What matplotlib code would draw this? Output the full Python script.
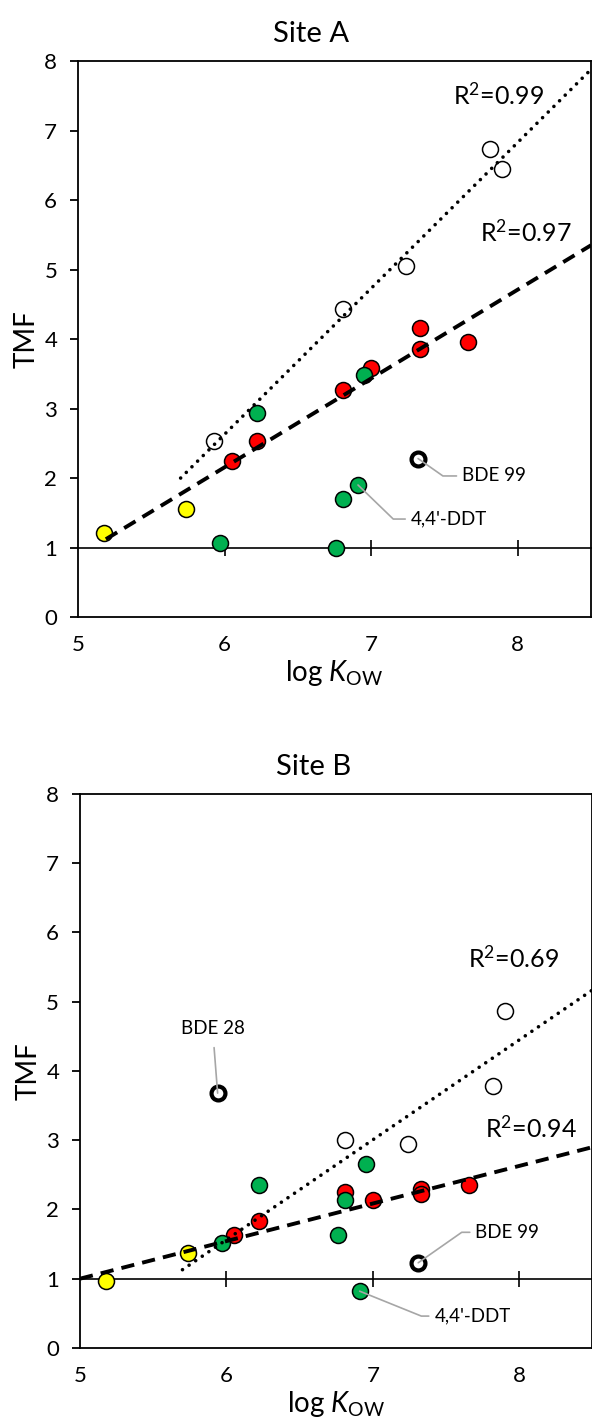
import matplotlib.pyplot as plt

plt.rcParams['font.family'] = ['Lato', 'DejaVu Sans']
plt.rcParams['mathtext.fontset'] = 'custom'
plt.rcParams['mathtext.rm'] = 'Lato'
plt.rcParams['mathtext.it'] = 'Lato:italic'

# log Kow of the compounds, by group
red_x = [6.05, 6.22, 6.81, 7.00, 7.33, 7.33, 7.66]
green_x = [5.97, 6.22, 6.95, 6.76, 6.81, 6.91]
yellow_x = [5.18, 5.74]
white_x_a = [5.93, 6.81, 7.24, 7.81, 7.89]
white_x_b = [6.81, 7.24, 7.82, 7.90]
bold_x_a = [7.32]
bold_x_b = [5.94, 7.31]

# TMF, site A
red_a = [2.24, 2.53, 3.27, 3.59, 4.16, 3.85, 3.96]
green_a = [1.07, 2.93, 3.48, 0.99, 1.70, 1.90]
yellow_a = [1.21, 1.55]
white_a = [2.53, 4.43, 5.05, 6.73, 6.45]
bold_a = [2.28]

# TMF, site B
red_b = [1.63, 1.84, 2.25, 2.14, 2.30, 2.23, 2.35]
green_b = [1.51, 2.35, 2.66, 1.63, 2.14, 0.82]
yellow_b = [0.96, 1.37]
white_b = [3.01, 2.95, 3.78, 4.87]
bold_b = [3.68, 1.23]

# trend lines (ends)
dot_x = [5.70, 8.50]
dot_a = [2.00, 7.88]
dot_b = [1.13, 5.17]
dash_x_a = [5.19, 8.50]
dash_a = [1.12, 5.35]
dash_x_b = [5.00, 8.50]
dash_b = [1.00, 2.90]

r2_a = ["R$^2$=0.99", "R$^2$=0.97"]
r2_pos_a = [(8.18, 7.50), (8.37, 5.53)]
r2_b = ["R$^2$=0.69", "R$^2$=0.94"]
r2_pos_b = [(8.27, 5.63), (8.39, 3.17)]

# labelled points: text, point, text position, leader angle
labels_a = ["BDE 99", "4,4'-DDT"]
label_pts_a = [(7.32, 2.28), (6.91, 1.90)]
label_pos_a = [(7.62, 2.03), (7.27, 1.41)]
label_ang_a = [-35, -44]
labels_b = ["BDE 99", "4,4'-DDT"]
label_pts_b = [(7.31, 1.23), (6.91, 0.82)]
label_pos_b = [(7.70, 1.67), (7.42, 0.46)]
label_ang_b = [35, -22]

GREEN = '#00B050'


def draw_panel(ax, title, white_x, white_y, bold_x, bold_y, red_y, green_y, yellow_y,
               dash_x, dash_y, dot_y, r2, r2_pos, labels, pts, pos, angs):
    ax.set_xlim(5, 8.5)
    ax.set_ylim(0, 8)
    ax.set_xticks([5, 6, 7, 8])
    ax.set_yticks(range(9))
    ax.tick_params(axis='x', length=0, pad=13, labelsize=16)
    ax.tick_params(axis='y', direction='out', length=6, width=1.3, pad=9, labelsize=16)
    for s in ax.spines.values():
        s.set_linewidth(1.3)
    ax.set_title(title, fontsize=21, pad=14, x=0.455)
    ax.set_ylabel('TMF', fontsize=20, labelpad=3)
    ax.set_xlabel(r'log $\mathit{K}_{\mathrm{OW}}$', fontsize=20, labelpad=2)

    # x axis crossing at TMF = 1
    sec = ax.secondary_xaxis(1 / 8)
    sec.set_xticks([6, 7, 8])
    sec.tick_params(direction='inout', length=11, width=1.2, labelbottom=False)
    sec.spines['bottom'].set_linewidth(1.2)

    mk = dict(ls='none', marker='o', ms=11.5, mec='black', mew=1.1, zorder=2)
    ax.plot(yellow_x, yellow_y, mfc='#FFFF00', **mk)
    ax.plot(white_x, white_y, mfc='white', **mk)
    ax.plot(red_x, red_y, mfc='#FF0000', **mk)
    ax.plot(green_x, green_y, mfc=GREEN, **mk)
    ax.plot(bold_x, bold_y, ls='none', marker='o', ms=10, mfc='white', mec='black',
            mew=3, zorder=2)

    ax.plot(dash_x, dash_y, color='black', lw=2.8, ls=(0, (3.4, 2.1)), zorder=3)
    ax.plot(dot_x, dot_y, color='black', lw=2.6, ls=(0, (0.01, 2.2)),
            dash_capstyle='round', zorder=3)

    for t, (x, y) in zip(r2, r2_pos):
        ax.text(x, y, t, fontsize=18, ha='right', va='center')

    for t, p, q, a in zip(labels, pts, pos, angs):
        ax.annotate(t, xy=p, xytext=q, fontsize=13.5, ha='left', va='center',
                    arrowprops=dict(arrowstyle='-', color='#A6A6A6', lw=1.2,
                                    relpos=(0, 0.5), shrinkA=2, shrinkB=0,
                                    connectionstyle=f'angle,angleA=0,angleB={a},rad=0'))


fig = plt.figure(figsize=(5.92, 14.27), dpi=100)
ax_a = fig.add_axes([0.1318, 0.5676, 0.8666, 0.3896])
ax_b = fig.add_axes([0.1351, 0.0554, 0.8657, 0.3882])

draw_panel(ax_a, 'Site A', white_x_a, white_a, bold_x_a, bold_a, red_a, green_a, yellow_a,
           dash_x_a, dash_a, dot_a, r2_a, r2_pos_a, labels_a, label_pts_a, label_pos_a,
           label_ang_a)
draw_panel(ax_b, 'Site B', white_x_b, white_b, bold_x_b, bold_b, red_b, green_b, yellow_b,
           dash_x_b, dash_b, dot_b, r2_b, r2_pos_b, labels_b, label_pts_b, label_pos_b,
           label_ang_b)

# BDE 28 label sits above its point
ax_b.annotate('BDE 28', xy=(bold_x_b[0], bold_b[0]), xytext=(5.91, 4.62), fontsize=13.5,
              ha='center', va='center',
              arrowprops=dict(arrowstyle='-', color='#A6A6A6', lw=1.2, relpos=(0.5, 0),
                              shrinkA=6, shrinkB=0))

fig.savefig('out.png', dpi=100)
